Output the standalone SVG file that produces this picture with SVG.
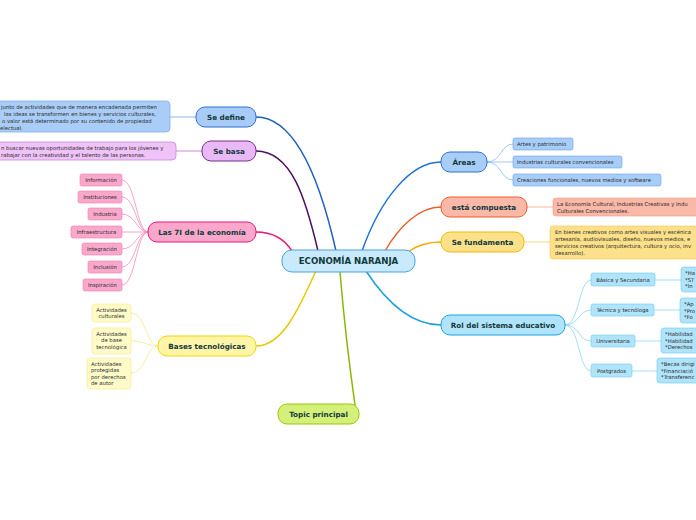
<svg xmlns="http://www.w3.org/2000/svg" width="696" height="520" viewBox="0 0 696 520">
<style>
text{font-family:"DejaVu Sans","Liberation Sans",sans-serif}
.m{font-size:7.2px;font-weight:bold;fill:#123a3a;text-anchor:middle}
.c{font-size:5.3px;fill:#2a2a2a;text-anchor:middle}
.d{font-size:5.3px;fill:#2a2a2a}
.cn{fill:none;stroke-linecap:round}
</style>
<rect width="696" height="520" fill="#ffffff"/>
<g id="connectors" class="cn">
<path d="M256,117 C295,117 320,180 336,251" stroke="#1f5fbf" stroke-width="1.5"/>
<path d="M256,151 C292,151 306,200 318,251" stroke="#4a1060" stroke-width="1.5"/>
<path d="M256,232 C275,232 285,240 292,251" stroke="#e8157a" stroke-width="1.5"/>
<path d="M256,346 C285,346 302,300 316,271" stroke="#e8c800" stroke-width="1.5"/>
<path d="M355,405 C350,370 344,320 340,272" stroke="#8ab800" stroke-width="1.5"/>
<path d="M441,162 C410,162 380,200 362,251" stroke="#1f6fd0" stroke-width="1.5"/>
<path d="M441,207 C420,207 400,225 385,251" stroke="#f05a28" stroke-width="1.5"/>
<path d="M441,242 C425,242 416,246 408,252" stroke="#f5a800" stroke-width="1.5"/>
<path d="M441,325 C410,325 385,300 366,271" stroke="#1aa0e0" stroke-width="1.5"/>
<path d="M170,117 L196,117" stroke="#8ab8f0" stroke-width="1"/>
<path d="M176,151 L202,151" stroke="#c58ad6" stroke-width="1"/>
<path d="M527,207 L553,207" stroke="#f7b8a6" stroke-width="1"/>
<path d="M524,242 L550,242" stroke="#f8d880" stroke-width="1"/>
<g stroke="#f48cba" stroke-width="0.8">
<path d="M122,180 C136,180 136,232 148,232"/>
<path d="M122,197 C136,197 136,232 148,232"/>
<path d="M122,214 C136,214 136,232 148,232"/>
<path d="M122,232 L148,232"/>
<path d="M122,249 C136,249 136,232 148,232"/>
<path d="M122,267 C136,267 136,232 148,232"/>
<path d="M122,285 C136,285 136,232 148,232"/>
</g>
<g stroke="#f5e88a" stroke-width="0.8">
<path d="M131,313 C146,313 146,346 158,346"/>
<path d="M131,341 C146,341 146,346 158,346"/>
<path d="M131,373 C146,373 146,346 158,346"/>
</g>
<g stroke="#8ab8f0" stroke-width="0.8">
<path d="M487,162 C502,162 500,144 513,144"/>
<path d="M487,162 L513,162"/>
<path d="M487,162 C502,162 500,180 513,180"/>
</g>
<g stroke="#8ad6f5" stroke-width="0.8">
<path d="M565,325 C580,325 578,280 591,280"/>
<path d="M565,325 C580,325 578,310 591,310"/>
<path d="M565,325 C580,325 578,341 591,341"/>
<path d="M565,325 C580,325 578,371 591,371"/>
<path d="M655,280 L681,280"/>
<path d="M654,310 L680,310"/>
<path d="M635,341 L661,341"/>
<path d="M632,371 L657,371"/>
</g>
</g>
<g id="center">
<rect x="282" y="250" width="133" height="22" rx="10" fill="#c8eafc" stroke="#4aa3df" stroke-width="1"/>
<text class="m" x="348.5" y="264" style="font-size:8.6px">ECONOMÍA NARANJA</text>
</g>
<g id="se-define">
<rect x="196" y="107" width="60" height="20" rx="9" fill="#a8cbf7" stroke="#2f6fd6" stroke-width="1"/>
<text class="m" x="226" y="120">Se define</text>
</g>
<g id="se-define-desc">
<rect x="-10" y="101" width="180" height="31" rx="4" fill="#a9cdf7" stroke="#7eb0ef" stroke-width="0.8"/>
<text class="d" x="1" y="108.5">junto de actividades que de manera encadenada permiten</text>
<text class="d" x="4" y="115.5">las ideas se transformen en bienes y servicios culturales,</text>
<text class="d" x="2" y="122.5">o valor está determinado por su contenido de propiedad</text>
<text class="d" x="0" y="129.5">electual.</text>
</g>
<g id="se-basa">
<rect x="202" y="141" width="54" height="20" rx="9" fill="#e9b8f6" stroke="#7a2a8f" stroke-width="1"/>
<text class="m" x="229" y="154">Se basa</text>
</g>
<g id="se-basa-desc">
<rect x="-10" y="142" width="186" height="18" rx="4" fill="#efc3f7" stroke="#c58ad6" stroke-width="0.8"/>
<text class="d" x="1" y="149.5">n buscar nuevas oportunidades de trabajo para los jóvenes y</text>
<text class="d" x="1" y="156.5">rabajar con la creatividad y el talento de las personas.</text>
</g>
<g id="las-7i">
<rect x="148" y="222" width="108" height="20" rx="9" fill="#f9a8cc" stroke="#e8157a" stroke-width="1"/>
<text class="m" x="202" y="235">Las 7I de la economía</text>
</g>
<g id="informacion"><rect x="80" y="174" width="42" height="12" rx="2" fill="#f9a8cc" stroke="#f07ab0" stroke-width="0.6"/><text class="c" x="101" y="182">Información</text></g>
<g id="instituciones"><rect x="78" y="191" width="44" height="12" rx="2" fill="#f9a8cc" stroke="#f07ab0" stroke-width="0.6"/><text class="c" x="100" y="199">Instituciones</text></g>
<g id="industria"><rect x="88" y="208" width="34" height="12" rx="2" fill="#f9a8cc" stroke="#f07ab0" stroke-width="0.6"/><text class="c" x="105" y="216">Industria</text></g>
<g id="infraestructura"><rect x="71" y="226" width="51" height="12" rx="2" fill="#f9a8cc" stroke="#f07ab0" stroke-width="0.6"/><text class="c" x="96.5" y="234">Infraestructura</text></g>
<g id="integracion"><rect x="82" y="243" width="40" height="12" rx="2" fill="#f9a8cc" stroke="#f07ab0" stroke-width="0.6"/><text class="c" x="102" y="251">Integración</text></g>
<g id="inclusion"><rect x="88" y="261" width="34" height="12" rx="2" fill="#f9a8cc" stroke="#f07ab0" stroke-width="0.6"/><text class="c" x="105" y="269">Inclusión</text></g>
<g id="inspiracion"><rect x="83" y="279" width="39" height="12" rx="2" fill="#f9a8cc" stroke="#f07ab0" stroke-width="0.6"/><text class="c" x="102.5" y="287">Inspiración</text></g>
<g id="bases">
<rect x="158" y="336" width="98" height="20" rx="9" fill="#fff5a8" stroke="#f0d800" stroke-width="1"/>
<text class="m" x="207" y="349">Bases tecnológicas</text>
</g>
<g id="act-culturales"><rect x="92" y="304" width="39" height="18" rx="3" fill="#fffbc8" stroke="#f5e88a" stroke-width="0.6"/><text class="c" x="111.5" y="311.5">Actividades</text><text class="c" x="111.5" y="318">culturales</text></g>
<g id="act-base"><rect x="92" y="328" width="39" height="26" rx="3" fill="#fffbc8" stroke="#f5e88a" stroke-width="0.6"/><text class="c" x="111.5" y="335.5">Actividades</text><text class="c" x="111.5" y="342">de base</text><text class="c" x="111.5" y="348.5">tecnológica</text></g>
<g id="act-protegidas"><rect x="87" y="358" width="44" height="31" rx="3" fill="#fffbc8" stroke="#f5e88a" stroke-width="0.6"/><text class="d" x="91" y="365.5">Actividades</text><text class="d" x="91" y="372">protegidas</text><text class="d" x="91" y="378.5">por derechos</text><text class="d" x="91" y="385">de autor</text></g>
<g id="topic">
<rect x="278" y="404" width="81" height="20" rx="9" fill="#d4f07a" stroke="#9ac800" stroke-width="1"/>
<text class="m" x="318.5" y="417">Topic principal</text>
</g>
<g id="areas">
<rect x="441" y="152" width="46" height="20" rx="9" fill="#a8cdf7" stroke="#2f6fd6" stroke-width="1"/>
<text class="m" x="464" y="165">Áreas</text>
</g>
<g id="artes"><rect x="513" y="138" width="60" height="12" rx="2" fill="#a8cdf7" stroke="#6aa0ef" stroke-width="0.6"/><text class="d" x="517" y="146">Artes y patrimonio</text></g>
<g id="industrias"><rect x="513" y="156" width="109" height="12" rx="2" fill="#a8cdf7" stroke="#6aa0ef" stroke-width="0.6"/><text class="d" x="517" y="164">Industrias culturales convencionales</text></g>
<g id="creaciones"><rect x="513" y="174" width="148" height="12" rx="2" fill="#a8cdf7" stroke="#6aa0ef" stroke-width="0.6"/><text class="d" x="517" y="182">Creaciones funcionales, nuevos medios y software</text></g>
<g id="compuesta">
<rect x="441" y="197" width="86" height="20" rx="9" fill="#f9b8a8" stroke="#f05a28" stroke-width="1"/>
<text class="m" x="484" y="210">está compuesta</text>
</g>
<g id="compuesta-desc">
<rect x="553" y="198" width="153" height="18" rx="3" fill="#f9b8a8" stroke="#f59a80" stroke-width="0.6"/>
<text class="d" x="557" y="205.5">La Economía Cultural, Industrias Creativas y Indu</text>
<text class="d" x="557" y="212.5">Culturales Convencionales.</text>
</g>
<g id="fundamenta">
<rect x="441" y="232" width="83" height="20" rx="9" fill="#fde08a" stroke="#f5b800" stroke-width="1"/>
<text class="m" x="482.5" y="245">Se fundamenta</text>
</g>
<g id="fundamenta-desc">
<rect x="550" y="226" width="156" height="33" rx="3" fill="#fde08a" stroke="#f5c850" stroke-width="0.6"/>
<text class="d" x="555" y="234">En bienes creativos como artes visuales y escénica</text>
<text class="d" x="555" y="241">artesanía, audiovisuales, diseño, nuevos medios, e</text>
<text class="d" x="555" y="248">servicios creativos (arquitectura, cultura y ocio, inv</text>
<text class="d" x="555" y="255">desarrollo).</text>
</g>
<g id="rol">
<rect x="441" y="315" width="124" height="20" rx="9" fill="#b0e4fb" stroke="#1aa0e0" stroke-width="1"/>
<text class="m" x="503" y="328">Rol del sistema educativo</text>
</g>
<g id="basica"><rect x="591" y="273" width="64" height="13" rx="2" fill="#b0e4fb" stroke="#6ccaf0" stroke-width="0.6"/><text class="c" x="623" y="281.5">Básica y Secundaria</text></g>
<g id="tecnica"><rect x="591" y="304" width="63" height="12" rx="2" fill="#b0e4fb" stroke="#6ccaf0" stroke-width="0.6"/><text class="c" x="622.5" y="312">Técnica y tecnóloga</text></g>
<g id="universitaria"><rect x="591" y="335" width="44" height="12" rx="2" fill="#b0e4fb" stroke="#6ccaf0" stroke-width="0.6"/><text class="c" x="613" y="343">Universitaria</text></g>
<g id="postgrados"><rect x="591" y="364" width="41" height="13" rx="2" fill="#b0e4fb" stroke="#6ccaf0" stroke-width="0.6"/><text class="c" x="611.5" y="372.5">Postgrados</text></g>
<g id="basica-det"><rect x="681" y="267" width="25" height="25" rx="3" fill="#b0e4fb" stroke="#6ccaf0" stroke-width="0.6"/><text class="d" x="685" y="275">*Ha</text><text class="d" x="685" y="281.5">*ST</text><text class="d" x="685" y="288">*In</text></g>
<g id="tecnica-det"><rect x="680" y="298" width="26" height="25" rx="3" fill="#b0e4fb" stroke="#6ccaf0" stroke-width="0.6"/><text class="d" x="684" y="306">*Ap</text><text class="d" x="684" y="312.5">*Pro</text><text class="d" x="684" y="319">*Fo</text></g>
<g id="univ-det"><rect x="661" y="328" width="45" height="25" rx="3" fill="#b0e4fb" stroke="#6ccaf0" stroke-width="0.6"/><text class="d" x="665" y="336">*Habilidad</text><text class="d" x="665" y="342.5">*Habilidad</text><text class="d" x="665" y="349">*Derechos</text></g>
<g id="post-det"><rect x="657" y="358" width="49" height="25" rx="3" fill="#b0e4fb" stroke="#6ccaf0" stroke-width="0.6"/><text class="d" x="661" y="366">*Becas dirigi</text><text class="d" x="661" y="372.5">*Financiació</text><text class="d" x="661" y="379">*Transferenc</text></g>
</svg>
